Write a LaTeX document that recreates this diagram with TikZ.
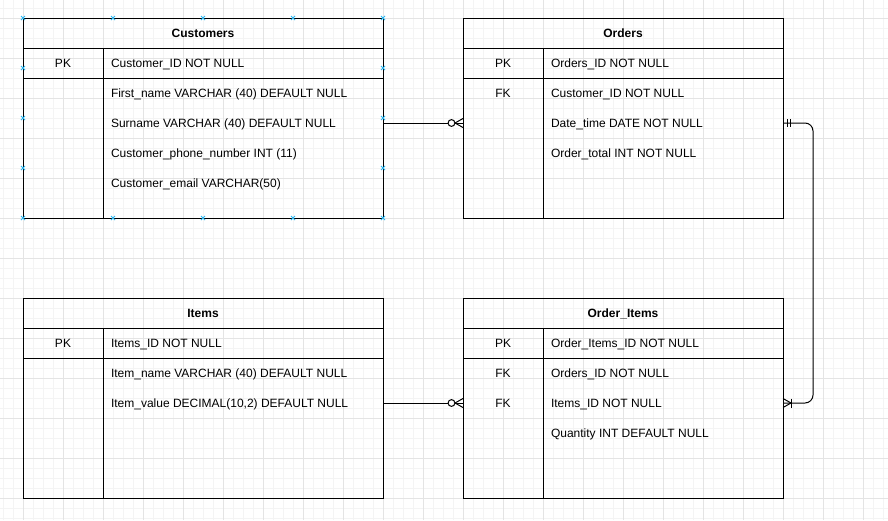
\documentclass[tikz,border=0pt]{standalone}
\usepackage{fontspec}
\setmainfont{Liberation Sans}
\usetikzlibrary{calc}
\definecolor{gridminor}{RGB}{244,244,244}
\definecolor{gridmajor}{RGB}{228,228,228}
\definecolor{handleblue}{RGB}{41,182,242}
\newcommand\ertable[5]{%
  \node[tbl, minimum width=#4pt, anchor=north west] (#1) at (#2,#3) {};
  \draw[rule] ($(#1.north west)+(0,30)$) -- ($(#1.north east)+(0,30)$);
  \draw[rule] ($(#1.north west)+(0,60)$) -- ($(#1.north east)+(0,60)$);
  \draw[rule] ($(#1.north west)+(80,30)$) -- ($(#1.south west)+(80,0)$);
  \node[ttl] (#1-title) at ($(#1.north)+(0,15)$) {#5};
}
\begin{document}
\begin{tikzpicture}[x=1pt,y=-1pt,
  gmin/.style={draw=gridminor, line width=1pt},
  gmaj/.style={draw=gridmajor, line width=1pt},
  tbl/.style={draw=black, line width=1pt, inner sep=0pt, outer sep=0pt, minimum height=200pt},
  rule/.style={draw=black, line width=1pt},
  txt/.style={inner sep=0pt, outer sep=0pt, text height=11.4pt, text depth=2pt, font=\fontsize{12}{14}\selectfont},
  ttl/.style={txt, font=\fontsize{12}{14}\selectfont\bfseries},
  field/.style={txt, anchor=west},
  key/.style={txt, anchor=center},
  conn/.style={draw=black, line width=1pt},
  handle/.style={draw=handleblue, line width=0.9pt}]
\useasboundingbox (0,0) rectangle (888,520);
\fill[white] (0,0) rectangle (888,520);
% grid
\foreach \i in {0,...,88} \draw[gmin] ({3+10*\i},0) -- ({3+10*\i},520);
\foreach \j in {0,...,51} \draw[gmin] (0,{8+10*\j}) -- (888,{8+10*\j});
\foreach \i in {0,...,21} \draw[gmaj] ({23+40*\i},0) -- ({23+40*\i},520);
\foreach \j in {0,...,12} \draw[gmaj] (0,{18+40*\j}) -- (888,{18+40*\j});
% tables
\ertable{customers}{23}{18}{360}{Customers}
\ertable{orders}{463}{18}{320}{Orders}
\ertable{items}{23}{298}{360}{Items}
\ertable{orderitems}{463}{298}{320}{Order\_Items}
% Customers fields
\node[key] (c-pk) at ($(customers.north west)+(40,45)$) {PK};
\node[field] (c-id) at ($(customers.north west)+(88,45)$) {Customer\_ID NOT NULL};
\node[field] (c-first) at ($(customers.north west)+(88,75)$) {First\_name VARCHAR (40) DEFAULT NULL};
\node[field] (c-sur) at ($(customers.north west)+(88,105)$) {Surname VARCHAR (40) DEFAULT NULL};
\node[field] (c-phone) at ($(customers.north west)+(88,135)$) {Customer\_phone\_number INT (11)};
\node[field] (c-email) at ($(customers.north west)+(88,165)$) {Customer\_email VARCHAR(50)};
% Orders fields
\node[key] (o-pk) at ($(orders.north west)+(40,45)$) {PK};
\node[field] (o-id) at ($(orders.north west)+(88,45)$) {Orders\_ID NOT NULL};
\node[key] (o-fk) at ($(orders.north west)+(40,75)$) {FK};
\node[field] (o-cid) at ($(orders.north west)+(88,75)$) {Customer\_ID NOT NULL};
\node[field] (o-date) at ($(orders.north west)+(88,105)$) {Date\_time DATE NOT NULL};
\node[field] (o-total) at ($(orders.north west)+(88,135)$) {Order\_total INT NOT NULL};
% Items fields
\node[key] (i-pk) at ($(items.north west)+(40,45)$) {PK};
\node[field] (i-id) at ($(items.north west)+(88,45)$) {Items\_ID NOT NULL};
\node[field] (i-name) at ($(items.north west)+(88,75)$) {Item\_name VARCHAR (40) DEFAULT NULL};
\node[field] (i-value) at ($(items.north west)+(88,105)$) {Item\_value DECIMAL(10,2) DEFAULT NULL};
% Order_Items fields
\node[key] (oi-pk) at ($(orderitems.north west)+(40,45)$) {PK};
\node[field] (oi-id) at ($(orderitems.north west)+(88,45)$) {Order\_Items\_ID NOT NULL};
\node[key] (oi-fk1) at ($(orderitems.north west)+(40,75)$) {FK};
\node[field] (oi-oid) at ($(orderitems.north west)+(88,75)$) {Orders\_ID NOT NULL};
\node[key] (oi-fk2) at ($(orderitems.north west)+(40,105)$) {FK};
\node[field] (oi-iid) at ($(orderitems.north west)+(88,105)$) {Items\_ID NOT NULL};
\node[field] (oi-qty) at ($(orderitems.north west)+(88,135)$) {Quantity INT DEFAULT NULL};
% Connector Customers -> Orders (zero or many)
\coordinate (e1) at (orders.west |- o-date.west);
\draw[conn] (customers.east |- c-sur.west) -- ($(e1)+(-15,0)$);
\draw[conn] ($(e1)+(-11.5,0)$) circle[radius=3.4pt];
\draw[conn] ($(e1)+(-8,0)$) -- (e1);
\draw[conn] ($(e1)+(-8,0)$) -- ($(e1)+(0,-4.5)$);
\draw[conn] ($(e1)+(-8,0)$) -- ($(e1)+(0,4.5)$);
% Connector Items -> Order_Items (zero or many)
\coordinate (e3) at (orderitems.west |- oi-iid.west);
\draw[conn] (items.east |- i-value.west) -- ($(e3)+(-15,0)$);
\draw[conn] ($(e3)+(-11.5,0)$) circle[radius=3.4pt];
\draw[conn] ($(e3)+(-8,0)$) -- (e3);
\draw[conn] ($(e3)+(-8,0)$) -- ($(e3)+(0,-4.5)$);
\draw[conn] ($(e3)+(-8,0)$) -- ($(e3)+(0,4.5)$);
% Connector Orders -> Order_Items (one mandatory to one or many)
\coordinate (s2) at (orders.east |- o-date.west);
\coordinate (e2) at (orderitems.east |- oi-iid.west);
\draw[conn, rounded corners=8pt] (s2) -- ($(s2)+(30,0)$) -- ($(e2)+(30,0)$) -- (e2);
\draw[conn] ($(s2)+(4,-4)$) -- ($(s2)+(4,4)$);
\draw[conn] ($(s2)+(7.5,-4)$) -- ($(s2)+(7.5,4)$);
\draw[conn] ($(e2)+(8,0)$) -- ($(e2)+(0,-4.5)$);
\draw[conn] ($(e2)+(8,0)$) -- ($(e2)+(0,4.5)$);
\draw[conn] ($(e2)+(8,-4.5)$) -- ($(e2)+(8,4.5)$);
% selection handles on Customers
\foreach \dx in {0,90,180,270,360} {
  \draw[handle] ($(customers.north west)+(\dx,0)+(-2,-2)$) -- ++(4,4);
  \draw[handle] ($(customers.north west)+(\dx,0)+(-2,2)$) -- ++(4,-4);
  \draw[handle] ($(customers.south west)+(\dx,0)+(-2,-2)$) -- ++(4,4);
  \draw[handle] ($(customers.south west)+(\dx,0)+(-2,2)$) -- ++(4,-4);
}
\foreach \dy in {50,100,150} {
  \draw[handle] ($(customers.north west)+(0,\dy)+(-2,-2)$) -- ++(4,4);
  \draw[handle] ($(customers.north west)+(0,\dy)+(-2,2)$) -- ++(4,-4);
  \draw[handle] ($(customers.north east)+(0,\dy)+(-2,-2)$) -- ++(4,4);
  \draw[handle] ($(customers.north east)+(0,\dy)+(-2,2)$) -- ++(4,-4);
}
\end{tikzpicture}
\end{document}
